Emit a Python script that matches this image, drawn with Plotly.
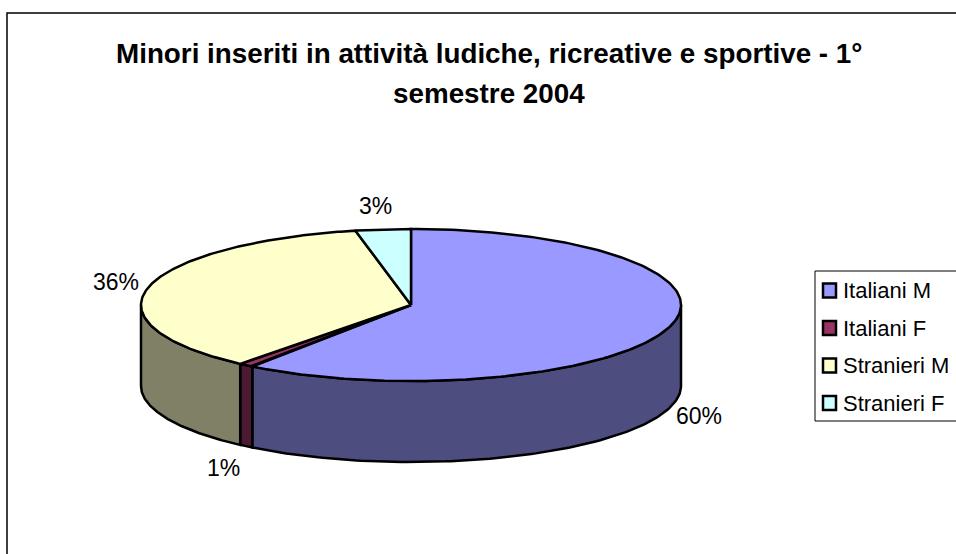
import numpy as np
import plotly.graph_objects as go

title_lines = ["Minori inseriti in attività ludiche, ricreative e sportive - 1°", "semestre 2004"]
categories = ["Italiani M", "Italiani F", "Stranieri M", "Stranieri F"]
values = [60.0, 0.9, 35.8, 3.3]

top_colors = ["#9999FF", "#993366", "#FFFFCC", "#CCFFFF"]
side_colors = ["#4D4D80", "#4D1A33", "#808066", "#668080"]

# pie geometry in pixels, the page is 956x554
cx, cy = 411, 305
rx, ry = 270, 76
depth = 81
label_offsets = [(31, 7), (-23, 22), (-33, -5), (-8, -23)]


def ellipse(angles, drop=0):
    return cx + rx * np.sin(angles), cy - ry * np.cos(angles) + drop


fractions = np.array(values) / sum(values)
edges = np.concatenate([[0], np.cumsum(fractions)]) * 2 * np.pi

fig = go.Figure()

# side walls, only the front half of the pie shows them
for i in range(len(values)):
    start = max(edges[i], np.pi / 2)
    end = min(edges[i + 1], 3 * np.pi / 2)
    if end <= start:
        continue
    t = np.linspace(start, end, 120)
    x1, y1 = ellipse(t)
    x2, y2 = ellipse(t[::-1], depth)
    fig.add_trace(go.Scatter(x=np.concatenate([x1, x2, x1[:1]]), y=np.concatenate([y1, y2, y1[:1]]),
                             mode="lines", fill="toself", fillcolor=side_colors[i],
                             line=dict(color="black", width=2.5), hoverinfo="skip"))

# top slices
for i in range(len(values)):
    t = np.linspace(edges[i], edges[i + 1], 200)
    x1, y1 = ellipse(t)
    fig.add_trace(go.Scatter(x=np.concatenate([[cx], x1, [cx]]), y=np.concatenate([[cy], y1, [cy]]),
                             mode="lines", fill="toself", fillcolor=top_colors[i],
                             line=dict(color="black", width=2.5), hoverinfo="skip"))

# percent labels
for i in range(len(values)):
    mid = (edges[i] + edges[i + 1]) / 2
    x, y = ellipse(mid, depth if np.cos(mid) < 0 and abs(np.sin(mid)) < 0.97 else 0)
    fig.add_annotation(x=x + label_offsets[i][0], y=y + label_offsets[i][1],
                       text=f"{round(fractions[i] * 100)}%", showarrow=False,
                       font=dict(size=23, color="black"))

# outer frame and legend box run off the page on the right
fig.add_shape(type="rect", x0=7, y0=13, x1=1000, y1=600, line=dict(color="black", width=1.5), layer="below")
fig.add_shape(type="rect", x0=815, y0=271, x1=1000, y1=421, line=dict(color="black", width=1))

# legend drawn by hand, plotly's own one can't get the swatches this close to the text
for i, name in enumerate(categories):
    y = 290.5 + i * 37.5
    fig.add_shape(type="rect", x0=823, y0=y - 7, x1=836, y1=y + 7, fillcolor=top_colors[i],
                  line=dict(color="black", width=2.5))
    fig.add_annotation(x=841, y=y, text=name, xanchor="left", showarrow=False,
                       font=dict(size=22, color="black"))

for line, y in zip(title_lines, [53, 93]):
    fig.add_annotation(x=489, y=y, text=line, showarrow=False,
                       font=dict(size=27.8, color="black", weight="bold"))

fig.update_layout(width=956, height=554, margin=dict(l=0, r=0, t=0, b=0), showlegend=False,
                  paper_bgcolor="white", plot_bgcolor="white",
                  font=dict(family="Liberation Sans"),
                  xaxis=dict(range=[0, 956], visible=False, fixedrange=True),
                  yaxis=dict(range=[554, 0], visible=False, fixedrange=True))

# the page has a default 8px body margin, drop it so the figure fills the window
fig.write_html("out.html", config=dict(displayModeBar=False),
               post_script="document.body.style.margin = '0'; document.body.style.overflow = 'hidden';")
